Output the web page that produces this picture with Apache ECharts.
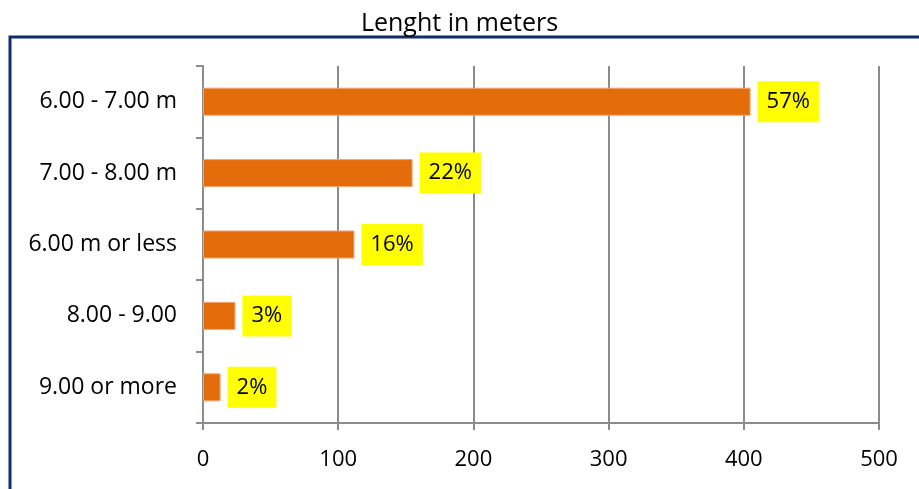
<!DOCTYPE html>
<html>
<head>
<meta charset="utf-8">
<script src="https://cdn.jsdelivr.net/npm/echarts@6/dist/echarts.min.js"></script>
<style>
  html, body { margin: 0; padding: 0; background: #fff; }
  #chart { width: 919px; height: 489px; }
</style>
</head>
<body>
<div id="chart"></div>
<script>
// Boat length classes and counts per class
const categories = ['6.00 - 7.00 m', '7.00 - 8.00 m', '6.00 m or less', '8.00 - 9.00', '9.00 or more'];
const counts = [405, 155, 112, 24, 13];
const xTicks = [0, 100, 200, 300, 400, 500];

const total = counts.reduce((a, b) => a + b, 0);
const FONT = '"Open Sans", sans-serif';

const chart = echarts.init(document.getElementById('chart'), null, { renderer: 'canvas' });
chart.setOption({
  animation: false,
  backgroundColor: '#ffffff',
  title: {
    text: 'Lenght in meters',
    left: 'center',
    top: 6,
    textStyle: { fontFamily: FONT, fontSize: 25, fontWeight: 'normal', color: '#000' }
  },
  graphic: [{
    type: 'rect',
    shape: { x: 10, y: 37, width: 1000, height: 500 },
    style: { fill: 'none', stroke: '#0f2d6e', lineWidth: 3 },
    silent: true,
    z: -1
  }],
  grid: { left: 203, right: 40, top: 66, bottom: 66, containLabel: false },
  xAxis: {
    type: 'value',
    min: xTicks[0],
    max: xTicks[xTicks.length - 1],
    interval: 100,
    axisLine: { show: true, lineStyle: { color: '#8c8c8c', width: 2 } },
    axisTick: { show: true, length: 7, lineStyle: { color: '#8c8c8c', width: 2 } },
    splitLine: { show: true, lineStyle: { color: '#8c8c8c', width: 2 } },
    axisLabel: { margin: 26, fontFamily: FONT, fontSize: 22, color: '#000' }
  },
  yAxis: {
    type: 'category',
    data: categories,
    inverse: true,
    axisLine: { show: true, lineStyle: { color: '#8c8c8c', width: 2 } },
    axisTick: { show: true, length: 7, lineStyle: { color: '#8c8c8c', width: 2 } },
    axisLabel: { margin: 26, fontFamily: FONT, fontSize: 23, color: '#000' }
  },
  series: [{
    type: 'bar',
    data: counts,
    barWidth: 28,
    itemStyle: { color: '#e46c0a', borderColor: '#f2a36a', borderWidth: 1 },
    label: {
      show: true,
      position: 'right',
      distance: 7,
      formatter: p => Math.round(p.value / total * 100) + '%',
      fontFamily: FONT,
      fontSize: 22,
      lineHeight: 24,
      color: '#000',
      backgroundColor: '#ffff00',
      padding: [9, 9, 8, 9]
    }
  }]
});
</script>
</body>
</html>
